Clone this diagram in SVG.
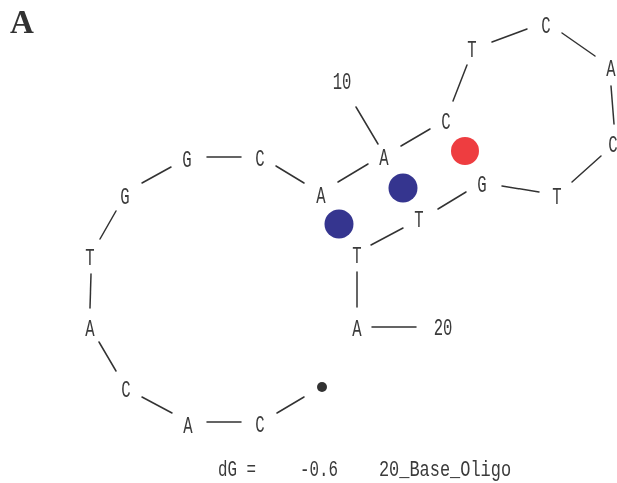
<svg xmlns="http://www.w3.org/2000/svg" width="617" height="483" viewBox="0 0 617 483">
<defs><filter id="soft" x="-20%" y="-20%" width="140%" height="140%"><feGaussianBlur stdDeviation="0.45"/></filter></defs>
<style>
text{font-family:"Liberation Mono",monospace;font-size:24px;fill:#3a3a3a;text-anchor:middle}
.s{font-size:22px}
#title{font-family:"Liberation Serif",serif;font-size:33px;font-weight:bold;fill:#333;text-anchor:start}
#connectors line{stroke:#333;stroke-width:1.5;stroke-linecap:round}
.blue{fill:#35358f}.red{fill:#ee3c41}
</style>
<rect width="617" height="483" fill="#fff"/>
<g filter="url(#soft)">
<text id="title" x="10" y="33">A</text>
<g id="connectors">
<line x1="207" y1="157" x2="241" y2="157"/>
<line x1="142" y1="183" x2="171" y2="167"/>
<line x1="116" y1="211" x2="100" y2="239"/>
<line x1="91" y1="274" x2="90" y2="308"/>
<line x1="99" y1="342" x2="116" y2="371"/>
<line x1="142" y1="397" x2="172" y2="413"/>
<line x1="207" y1="422" x2="241" y2="422"/>
<line x1="277" y1="413" x2="304" y2="397"/>
<line x1="276" y1="166" x2="304" y2="183"/>
<line x1="338" y1="182" x2="368" y2="164"/>
<line x1="401" y1="146" x2="430" y2="129"/>
<line x1="356" y1="107" x2="378" y2="144"/>
<line x1="453" y1="101" x2="467" y2="65"/>
<line x1="492" y1="42" x2="527" y2="29"/>
<line x1="562" y1="33" x2="595" y2="56"/>
<line x1="611" y1="86" x2="614" y2="124"/>
<line x1="601" y1="156" x2="572" y2="182"/>
<line x1="502" y1="186" x2="539" y2="192"/>
<line x1="466" y1="192" x2="438" y2="209"/>
<line x1="403" y1="228" x2="371" y2="245"/>
<line x1="357" y1="272" x2="357" y2="307"/>
<line x1="372" y1="327" x2="416" y2="327"/>
</g>
<g id="pair-1"><circle class="blue" cx="339" cy="224" r="14.5"/></g>
<g id="pair-2"><circle class="blue" cx="403" cy="188" r="14.5"/></g>
<g id="pair-3"><circle class="red" cx="465" cy="151" r="14"/></g>
<g id="end-dot"><circle cx="322" cy="387" r="5" fill="#333"/></g>
<g id="n1"><text transform="translate(260 432) scale(.65 1)">C</text></g>
<g id="n2"><text transform="translate(188 433) scale(.65 1)">A</text></g>
<g id="n3"><text transform="translate(126 397) scale(.65 1)">C</text></g>
<g id="n4"><text transform="translate(90 336) scale(.65 1)">A</text></g>
<g id="n5"><text transform="translate(90 265) scale(.65 1)">T</text></g>
<g id="n6"><text transform="translate(125 204) scale(.65 1)">G</text></g>
<g id="n7"><text transform="translate(187 167) scale(.65 1)">G</text></g>
<g id="n8"><text transform="translate(260 166) scale(.65 1)">C</text></g>
<g id="n9"><text transform="translate(321 203) scale(.65 1)">A</text></g>
<g id="n10"><text transform="translate(384 165) scale(.65 1)">A</text></g>
<g id="n11"><text transform="translate(446 129) scale(.65 1)">C</text></g>
<g id="n12"><text transform="translate(472 57) scale(.65 1)">T</text></g>
<g id="n13"><text transform="translate(546 33) scale(.65 1)">C</text></g>
<g id="n14"><text transform="translate(611 76) scale(.65 1)">A</text></g>
<g id="n15"><text transform="translate(613 152) scale(.65 1)">C</text></g>
<g id="n16"><text transform="translate(557 204) scale(.65 1)">T</text></g>
<g id="n17"><text transform="translate(482 192) scale(.65 1)">G</text></g>
<g id="n18"><text transform="translate(419 227) scale(.65 1)">T</text></g>
<g id="n19"><text transform="translate(357 263) scale(.65 1)">T</text></g>
<g id="n20"><text transform="translate(357 336) scale(.65 1)">A</text></g>
<g id="label-10"><text transform="translate(342 89) scale(.65 1)">10</text></g>
<g id="label-20"><text transform="translate(443 335) scale(.65 1)">20</text></g>
<g id="caption">
<text class="s" transform="translate(237 476) scale(.72 1)">dG =</text>
<text class="s" transform="translate(319 476) scale(.72 1)">-0.6</text>
<text class="s" transform="translate(445 476) scale(.77 1)">20_Base_Oligo</text>
</g>
</g>
</svg>
